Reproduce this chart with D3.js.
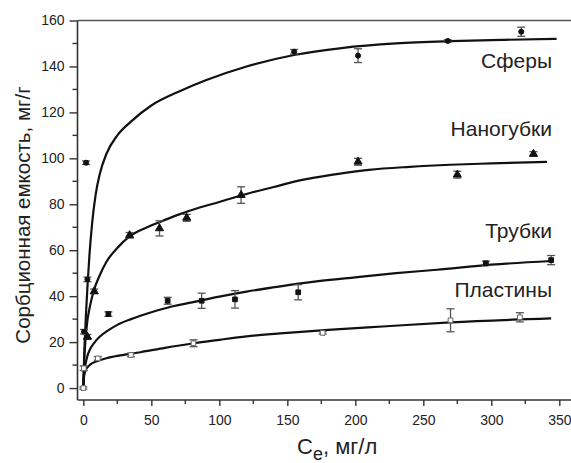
<!DOCTYPE html>
<html><head><meta charset="utf-8">
<script src="https://cdn.jsdelivr.net/npm/d3@7"></script>
<style>body{margin:0;background:#fff}svg text{font-family:Arial,"Liberation Sans",sans-serif}</style>
</head><body><svg id="c" width="571" height="463"></svg>
<script>
// ---- data ----
const xTicks = [0, 50, 100, 150, 200, 250, 300, 350];
const yTicks = [0, 20, 40, 60, 80, 100, 120, 140, 160];
const seriesNames = ["Сферы", "Наногубки", "Трубки", "Пластины"];
// measured points: [Ce, q, error]
const spheresPts = [[0.5,24.5,1],[3,47.3,1],[2,98.1,0.8],[155,146.4,1],[202,144.7,3],[268,151.1,0.5],[322,155.1,2]];
const spongesPts = [[3,22.3,1],[8,42.1,1],[34,66.5,1.2],[56,69.5,3.3],[76,74.1,1.5],[116,84,3.6],[202,98.5,1.5],[275,92.9,1.5],[331,101.9,1]];
const tubesPts = [[18.4,32.2,1],[62,38,1.5],[87,38,3.3],[111.5,38.6,3.8],[158,41.7,3.3],[296,54.3,1],[344,55.7,2]];
const platesPts = [[0,0,0.5],[0.3,8.6,1],[10.6,12.9,0.8],[35,14.4,0.8],[81,19.5,1.5],[176,24,0.5],[270,29.5,5],[321,30.8,2]];
// fitted curves
const spheresCurveX = [0,0.5,1,2,3,4.5,6.5,9,12,17,25,35,50,70,90,120,155,190,230,270,310,348];
const spheresCurveY = [0,12,20,33,44,58,72,84,93,102,110,116,123,129,134,140,145,148,150,151,151.6,152];
const spongesCurveX = [0,0.5,1,2.5,5,8,12,17,25,34,45,55,70,85,100,120,140,160,185,210,240,270,300,341];
const spongesCurveY = [0,10,16,27,36,43,49,55,61,66,69.5,72,75.5,78.5,81,84.5,87.5,90.5,93,95,96.3,97.2,97.8,98.5];
const tubesCurveX = [0,0.3,1.25,3,5,8,12,18,25,35,50,65,80,100,120,145,170,200,230,260,300,344];
const tubesCurveY = [0,5,9.3,14,17,19.7,22.3,25,27.5,30,33,35.5,37.3,39.8,42,44.3,46.3,48.2,50,51.5,53.7,55.3];
const platesCurveX = [0,0.3,1.25,3,5,10,17,27,42,60,80,100,120,150,180,220,270,344];
const platesCurveY = [0,4,7.1,9,10.2,11.7,13,14.2,15.6,17.5,19.4,21,22.5,24,25.3,26.8,28.6,30.3];

// ---- layout ----
const svg = d3.select("#c");
const pL = 77.5, pR = 571, pT = 20.5, pB = 400;
const x = d3.scaleLinear().domain([-4.3, 358.6]).range([pL, pR]);
const y = d3.scaleLinear().domain([-5.2, 160]).range([pB, pT]);

// frame
svg.append("line").attr("x1", pL).attr("x2", pR).attr("y1", pT).attr("y2", pT)
  .attr("stroke", "#555").attr("stroke-width", 1.5);

// axes
const yAxis = d3.axisLeft(y).tickValues(yTicks).tickSize(8).tickPadding(5).tickSizeOuter(0);
const gy = svg.append("g").attr("transform", `translate(${pL},0)`).call(yAxis);
const xAxis = d3.axisBottom(x).tickValues(xTicks).tickSize(6).tickPadding(9).tickSizeOuter(0);
const gx = svg.append("g").attr("transform", `translate(0,${pB})`).call(xAxis);
[gx, gy].forEach(g => {
  g.select(".domain").attr("stroke", "#333").attr("stroke-width", 1.6);
  g.selectAll(".tick line").attr("stroke", "#333").attr("stroke-width", 1.4);
  g.selectAll("text").attr("font-size", 14).attr("fill", "#222");
});
gx.select(".domain").attr("d", `M${pL},0H${pR}`);
gy.select(".domain").attr("d", `M0,${pT}V${pB}`);
// minor ticks
const yMinor = d3.range(10, 160, 20);
svg.append("g").selectAll("line").data(yMinor).join("line")
  .attr("x1", pL - 5).attr("x2", pL).attr("y1", d => y(d)).attr("y2", d => y(d))
  .attr("stroke", "#333").attr("stroke-width", 1.4);
const xMinor = d3.range(25, 350, 50);
svg.append("g").selectAll("line").data(xMinor).join("line")
  .attr("y1", pB).attr("y2", pB + 4).attr("x1", d => x(d)).attr("x2", d => x(d))
  .attr("stroke", "#333").attr("stroke-width", 1.4);

// axis titles
svg.append("text").attr("transform", `translate(30,215) rotate(-90)`).attr("text-anchor", "middle")
  .attr("font-size", 20.5).attr("fill", "#222").text("Сорбционная емкость, мг/г");
const xt = svg.append("text").attr("x", 297).attr("y", 454).attr("font-size", 22).attr("fill", "#222");
xt.append("tspan").text("C");
xt.append("tspan").attr("dy", 6).attr("font-size", 18).text("e");
xt.append("tspan").attr("dy", -6).text(", мг/л");

// curves
const line = d3.line().x(d => x(d[0])).y(d => y(d[1])).curve(d3.curveMonotoneX);
const curves = [
  d3.zip(spheresCurveX, spheresCurveY),
  d3.zip(spongesCurveX, spongesCurveY),
  d3.zip(tubesCurveX, tubesCurveY),
  d3.zip(platesCurveX, platesCurveY)
];
svg.append("g").selectAll("path").data(curves).join("path")
  .attr("d", line).attr("fill", "none").attr("stroke", "#111").attr("stroke-width", 2.2);

// error bars + markers
const sets = [spheresPts, spongesPts, tubesPts, platesPts];
const markerTypes = [d3.symbolCircle, d3.symbolTriangle, d3.symbolSquare, d3.symbolSquare];
const markerSizes = [20, 28, 22, 22];
sets.forEach((pts, i) => {
  const g = svg.append("g");
  pts.forEach(p => {
    const cx = x(p[0]), y1 = y(p[1] + p[2]), y2 = y(p[1] - p[2]);
    g.append("line").attr("x1", cx).attr("x2", cx).attr("y1", y1).attr("y2", y2).attr("stroke", "#555").attr("stroke-width", 1.3);
    [y1, y2].forEach(yy => g.append("line").attr("x1", cx - 4).attr("x2", cx + 4).attr("y1", yy).attr("y2", yy).attr("stroke", "#555").attr("stroke-width", 1.3));
    g.append("path").attr("transform", `translate(${cx},${y(p[1])})`)
      .attr("d", d3.symbol().type(markerTypes[i]).size(markerSizes[i])())
      .attr("fill", i === 3 ? "#fff" : "#111").attr("stroke", i === 3 ? "#666" : "#111").attr("stroke-width", 1);
  });
});

// series labels
const labelY = [68, 136, 238, 297];
svg.append("g").selectAll("text").data(seriesNames).join("text")
  .attr("x", 552).attr("y", (d, i) => labelY[i]).attr("text-anchor", "end")
  .attr("font-size", 21).attr("fill", "#222").text(d => d);
</script></body></html>
